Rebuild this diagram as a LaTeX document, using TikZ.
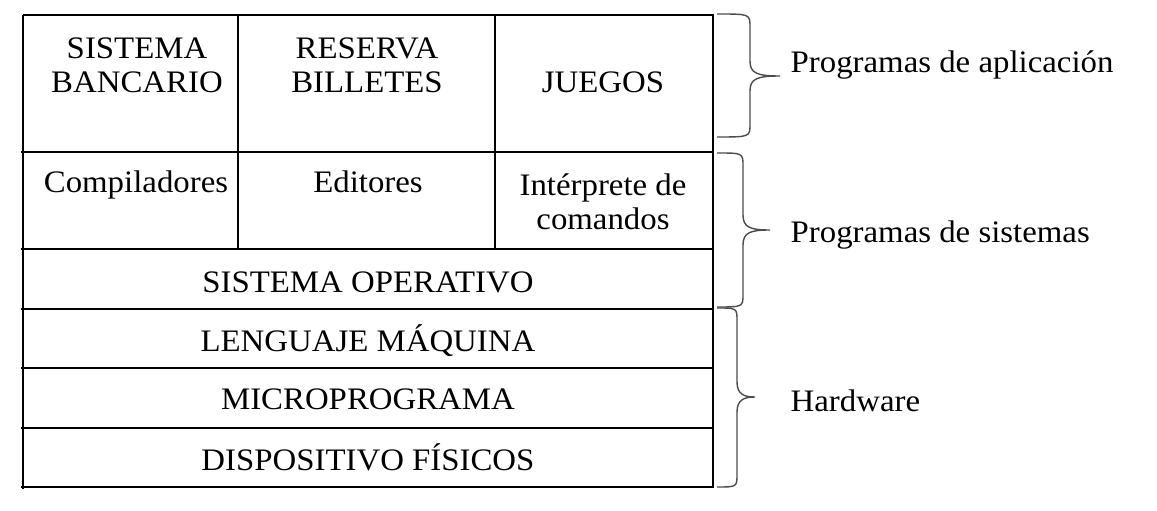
\documentclass[tikz,border=0pt]{standalone}
\usepackage{fontspec}
\setmainfont{Liberation Serif}[FakeStretch=1.05]
\usepackage{tikz}
\usetikzlibrary{calc}

\tikzset{
	celda/.style={anchor=base, align=center, inner sep=0pt},
	rotulo/.style={anchor=base west, inner sep=0pt},
	llave/.style={draw=black!70, line width=0.8pt},
}

\begin{document}
\begin{tikzpicture}[font=\fontsize{17.8}{19.9}\selectfont, line width=0.75pt]
	\useasboundingbox (0,0) rectangle (23.14,10.22);

	% marco y lineas de la tabla
	\coordinate (f0) at (0.46,9.92);
	\coordinate (f6) at (0.46,0.48);
	\draw (f0) -- (14.26,9.92) -- (14.26,0.48) -- (0.42,0.48);
	\draw (f0) -- (0.46,0.44);
	\foreach \y in {7.18, 5.24, 4.04, 2.86, 1.66}{
		\draw (0.42,\y) -- (14.26,\y);
	}
	\draw (4.76,9.92) -- (4.76,5.24);
	\draw (9.90,9.92) -- (9.90,5.24);

	% programas de aplicacion
	\node[celda] (banco) at (2.74,8.36) {SISTEMA\\BANCARIO};
	\node[celda] (billetes) at (7.34,8.36) {RESERVA\\BILLETES};
	\node[celda] (juegos) at (12.06,8.36) {JUEGOS};

	% programas de sistemas
	\node[celda] (compil) at (2.72,6.36) {Compiladores};
	\node[celda] (editores) at (7.36,6.36) {Editores};
	\node[celda] (interp) at (12.06,5.62) {Int\'erprete de\\comandos};
	\node[celda] (so) at (7.36,4.36) {SISTEMA OPERATIVO};

	% hardware
	\node[celda] (lengmaq) at (7.36,3.18) {LENGUAJE M\'AQUINA};
	\node[celda] (microp) at (7.36,2.02) {MICROPROGRAMA};
	\node[celda] (disp) at (7.36,0.80) {DISPOSITIVO F\'ISICOS};

	% llaves: arriba/abajo/centro/cuerpo/punta
	\foreach \ya/\yb/\ym/\xc/\xp in {9.94/7.48/8.70/15.00/15.60,
			7.16/4.08/5.62/14.86/15.40, 4.06/0.48/2.28/14.74/15.10}{
		\draw[llave] (14.34,\ya) .. controls (\xc,\ya) .. (\xc,\ya-0.26)
			-- (\xc,\ym+0.3) .. controls (\xc,\ym+0.05) and (\xc+0.15,\ym) .. (\xp,\ym)
			.. controls (\xc+0.15,\ym) and (\xc,\ym-0.05) .. (\xc,\ym-0.3)
			-- (\xc,\yb+0.26) .. controls (\xc,\yb) .. (14.34,\yb);
	}

	\node[rotulo] (aplic) at (15.80,8.76) {Programas de aplicaci\'on};
	\node[rotulo] (sist) at (15.80,5.36) {Programas de sistemas};
	\node[rotulo] (hw) at (15.80,1.98) {Hardware};
\end{tikzpicture}
\end{document}
